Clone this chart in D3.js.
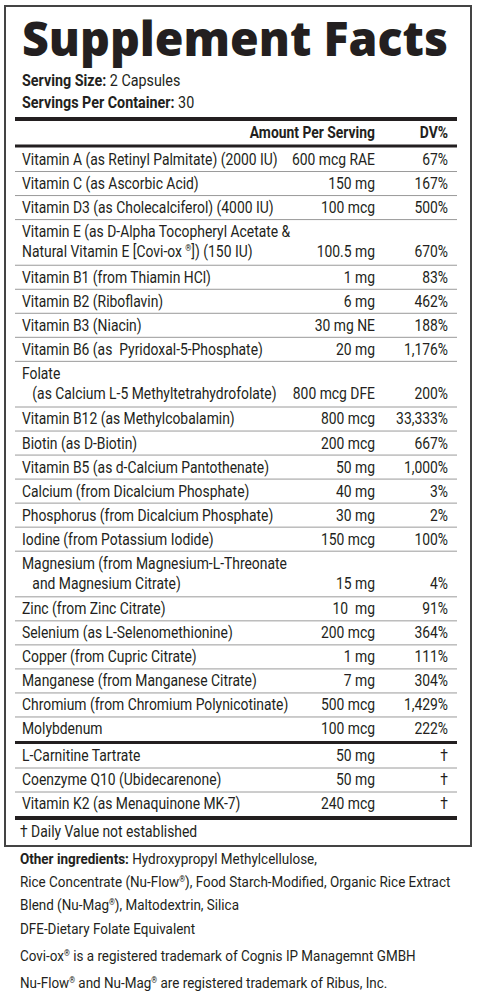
<!DOCTYPE html>
<html><head><meta charset="utf-8">
<script src="https://cdn.jsdelivr.net/npm/d3@7"></script>
<style>body{margin:0;background:#fff}svg{display:block}text{fill:#231f20}</style>
</head><body>
<script>
const names = [
 ["Vitamin A (as Retinyl Palmitate) (2000 IU)"],
 ["Vitamin C (as Ascorbic Acid)"],
 ["Vitamin D3 (as Cholecalciferol) (4000 IU)"],
 ["Vitamin E (as D-Alpha Tocopheryl Acetate &","Natural Vitamin E [Covi-ox ®]) (150 IU)"],
 ["Vitamin B1 (from Thiamin HCl)"],
 ["Vitamin B2 (Riboflavin)"],
 ["Vitamin B3 (Niacin)"],
 ["Vitamin B6 (as  Pyridoxal-5-Phosphate)"],
 ["Folate","   (as Calcium L-5 Methyltetrahydrofolate)"],
 ["Vitamin B12 (as Methylcobalamin)"],
 ["Biotin (as D-Biotin)"],
 ["Vitamin B5 (as d-Calcium Pantothenate)"],
 ["Calcium (from Dicalcium Phosphate)"],
 ["Phosphorus (from Dicalcium Phosphate)"],
 ["Iodine (from Potassium Iodide)"],
 ["Magnesium (from Magnesium-L-Threonate","   and Magnesium Citrate)"],
 ["Zinc (from Zinc Citrate)"],
 ["Selenium (as L-Selenomethionine)"],
 ["Copper (from Cupric Citrate)"],
 ["Manganese (from Manganese Citrate)"],
 ["Chromium (from Chromium Polynicotinate)"],
 ["Molybdenum"]
];
const amounts = ["600 mcg RAE","150 mg","100 mcg","100.5 mg","1 mg","6 mg","30 mg NE","20 mg","800 mcg DFE","800 mcg","200 mcg","50 mg","40 mg","30 mg","150 mcg","15 mg","10  mg","200 mcg","1 mg","7 mg","500 mcg","100 mcg"];
const dvs = ["67%","167%","500%","670%","83%","462%","188%","1,176%","200%","33,333%","667%","1,000%","3%","2%","100%","4%","91%","364%","111%","304%","1,429%","222%"];
const otherNames = ["L-Carnitine Tartrate","Coenzyme Q10 (Ubidecarenone)","Vitamin K2 (as Menaquinone MK-7)"];
const otherAmounts = ["50 mg","50 mg","240 mcg"];
const otherDv = ["†","†","†"];
const footLines = [
 [["b","Other ingredients: "],["n","Hydroxypropyl Methylcellulose,"]],
 [["n","Rice Concentrate (Nu-Flow®), Food Starch-Modified, Organic Rice Extract"]],
 [["n","Blend (Nu-Mag®), Maltodextrin, Silica"]],
 [["n","DFE-Dietary Folate Equivalent"]],
 [["n","Covi-ox® is a registered trademark of Cognis IP Managemnt GMBH"]],
 [["n","Nu-Flow® and Nu-Mag® are registered trademark of Ribus, Inc."]]
];
const footY = [864,887,910,934,961,988];

const svg = d3.select("body").append("svg").attr("width",478).attr("height",1000);
svg.append("rect").attr("x",5).attr("y",6).attr("width",466).attr("height",840).attr("fill","none").attr("stroke","#444").attr("stroke-width",2);
svg.append("text").attr("x",22).attr("y",56).attr("font-family","'Open Sans',sans-serif").attr("font-weight",800)
  .attr("font-size",48).attr("textLength",426).attr("lengthAdjust","spacingAndGlyphs").text("Supplement Facts");
function sep(y,w,c){svg.append("line").attr("x1",15).attr("x2",457).attr("y1",y).attr("y2",y).attr("stroke",c||"#231f20").attr("stroke-width",w);}

// condensed text layer: Roboto scaled horizontally
const G = svg.append("g").style("font-family","Roboto,sans-serif");
const probe = G.append("text").attr("font-size",16).text(names[0][0]);
const k = 256/probe.node().getComputedTextLength();
probe.remove();
G.attr("transform",`scale(${k},1)`);
function T(x,yy,size,anchor){return G.append("text").attr("x",x/k).attr("y",yy).attr("font-size",size).attr("text-anchor",anchor||"start").attr("xml:space","preserve");}
function addText(sel,str,size){
  str.split("®").forEach((p,i)=>{
    if(i>0){sel.append("tspan").attr("font-size",size*0.55).attr("dy",-size*0.35).text("®");}
    sel.append("tspan").attr("dy",i>0?size*0.35:null).text(p);
  });
  return sel;
}
const s1=T(22,86,16.5);
s1.append("tspan").attr("font-weight","bold").text("Serving Size:");s1.append("tspan").text(" 2 Capsules");
const s2=T(22,108,16.5);
s2.append("tspan").attr("font-weight","bold").text("Servings Per Container:");s2.append("tspan").text(" 30");
sep(119,4);
T(375,138,16,"end").attr("font-weight","bold").text("Amount Per Serving");
T(448,138,16,"end").attr("font-weight","bold").text("DV%");
sep(146,3);

const units = names.map(n=>n.length>1?1.9:1);
const cum=[0]; units.forEach(u=>cum.push(cum[cum.length-1]+u));
const y = d3.scaleLinear().domain([0,cum[cum.length-1]]).range([147.5,741]);
const fs=16;
names.forEach((n,i)=>{
  const top=y(cum[i]), bot=y(cum[i+1]);
  n.forEach((line,j)=>addText(T(22,top+17.5+j*20,fs),line,fs));
  const by=top+17.5+(n.length-1)*20;
  T(375,by,fs,"end").text(amounts[i]);
  T(448,by,fs,"end").text(dvs[i]);
  if(i<names.length-1) sep(bot,1,"#9a9a9a");
});
sep(742.5,3);
const y2 = d3.scaleLinear().domain([0,otherNames.length]).range([744,816]);
otherNames.forEach((n,i)=>{
  const top=y2(i);
  T(22,top+17.5,fs).text(n);
  T(375,top+17.5,fs,"end").text(otherAmounts[i]);
  T(448,top+17.5,fs,"end").text(otherDv[i]);
  if(i<otherNames.length-1) sep(y2(i+1),1,"#9a9a9a");
});
sep(818,4);
T(20,837,fs).text("† Daily Value not established");
footLines.forEach((l,i)=>{
  const t=T(20,footY[i],15.5);
  l.forEach(([w,s])=>{ if(w==="b") t.append("tspan").attr("font-weight","bold").text(s); else addText(t,s,15.5); });
});
</script>
</body></html>
